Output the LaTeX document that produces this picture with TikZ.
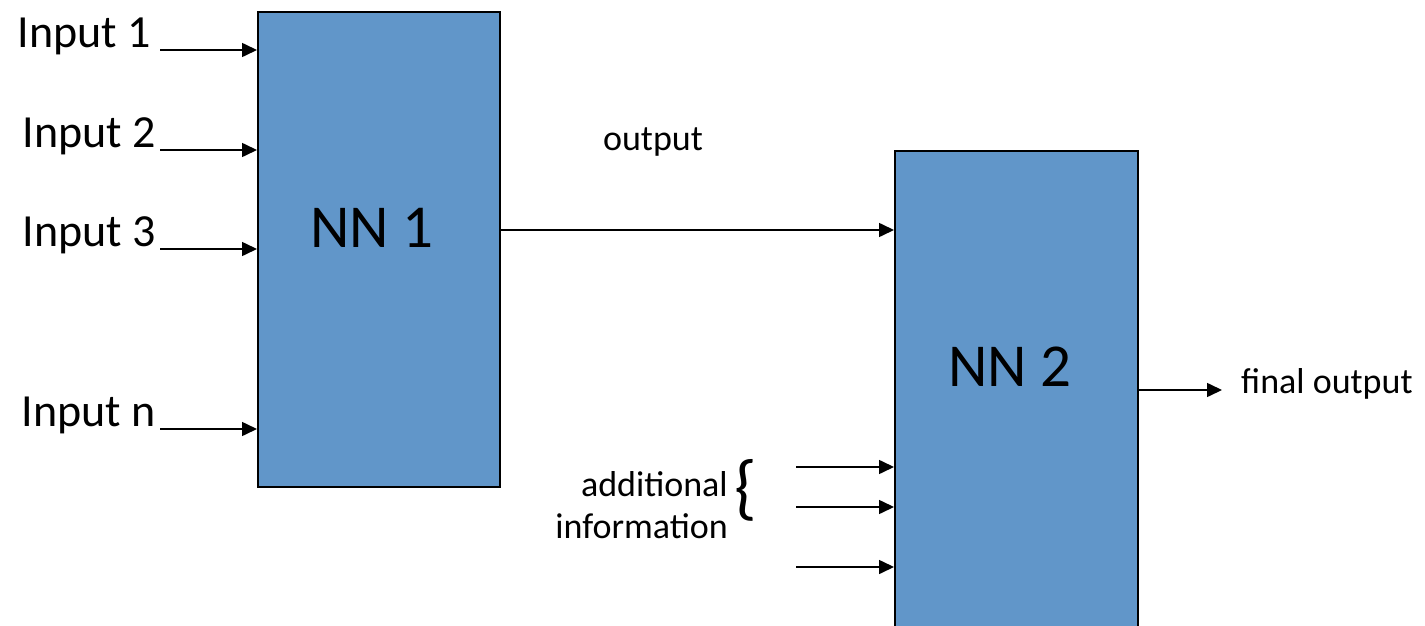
\documentclass[tikz,border=0pt]{standalone}
\usepackage{fontspec}
\setmainfont{Carlito}
\usetikzlibrary{arrows.meta}
\definecolor{boxblue}{RGB}{97,150,201}
\tikzset{
  nnbox/.style={draw=black, line width=2pt, fill=boxblue, rectangle, inner sep=0pt},
  arr/.style={line width=1.6pt, -{Triangle[length=15pt,width=14pt]}},
  biglabel/.style={font=\fontsize{46}{52}\selectfont, inner sep=0pt},
  nnlabel/.style={font=\fontsize{61}{70}\selectfont, inner sep=0pt},
  smalllabel/.style={font=\fontsize{36}{42}\selectfont, inner sep=0pt},
}
\begin{document}
\begin{tikzpicture}[x=1pt, y=-1pt]
\useasboundingbox (0,0) rectangle (1425,626);
\clip (0,0) rectangle (1425,626);
\fill[white] (0,0) rectangle (1425,626);

% the two networks
\node[nnbox, minimum width=242pt, minimum height=475pt] (nn1) at (379,249.5) {};
\node[nnbox, minimum width=243pt, minimum height=560pt] (nn2) at (1016.5,431) {};
\node[nnlabel, anchor=base] (l1) at (372,247) {NN 1};
\node[nnlabel, anchor=base] (l2) at (1010,386) {NN 2};

% inputs of the first network
\node[biglabel, anchor=base east] (in1) at (151,48) {Input 1};
\node[biglabel, anchor=base east] (in2) at (156,147) {Input 2};
\node[biglabel, anchor=base east] (in3) at (156,246) {Input 3};
\node[biglabel, anchor=base east] (inn) at (156,426) {Input n};
\coordinate (s1) at (160,50);
\coordinate (s2) at (160,150);
\coordinate (s3) at (160,249);
\coordinate (sn) at (160,429);
\foreach \s in {s1,s2,s3,sn}
  \draw[arr] (\s) -- (\s -| nn1.west);

% output of the first network into the second
\coordinate (o1) at (501,230);
\draw[arr] (o1) -- (o1 -| nn2.west);
\node[smalllabel, anchor=base] (out) at (653,150) {output};

% additional information
\node[smalllabel, anchor=base east] (add) at (728,496) {additional};
\node[smalllabel, anchor=base east] (inf) at (728,538) {information};
\node[font=\fontsize{72}{78}\selectfont, inner sep=0pt] (br) at (746,490) {\{};
\coordinate (a1) at (796,467);
\coordinate (a2) at (796,507);
\coordinate (a3) at (796,567);
\foreach \s in {a1,a2,a3}
  \draw[arr] (\s) -- (\s -| nn2.west);

% final output
\coordinate (f0) at (1139,390);
\coordinate (f1) at (1222,390);
\draw[arr] (f0) -- (f1);
\node[smalllabel, anchor=base west] (fin) at (1241,393) {final output};
\end{tikzpicture}
\end{document}
